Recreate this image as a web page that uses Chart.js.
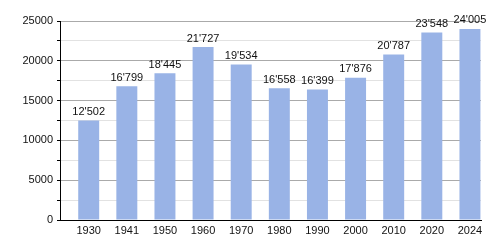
<!DOCTYPE html>
<html>
<head>
<meta charset="utf-8">
<script src="https://cdn.jsdelivr.net/npm/chart.js@4"></script>
<style>
html,body{margin:0;padding:0;background:#fff;}
#wrap{width:500px;height:250px;}
</style>
</head>
<body>
<div id="wrap"><canvas id="c" width="500" height="250"></canvas></div>
<script>
const years = ['1930','1941','1950','1960','1970','1980','1990','2000','2010','2020','2024'];
const population = [12502,16799,18445,21727,19534,16558,16399,17876,20787,23548,24005];
const yTicks = [0,5000,10000,15000,20000,25000];

function fmt(v){
  const s = String(v);
  return s.length > 3 ? s.slice(0, s.length-3) + "'" + s.slice(-3) : s;
}

const valueLabels = {
  id: 'valueLabels',
  afterDatasetsDraw(chart){
    const ctx = chart.ctx;
    const meta = chart.getDatasetMeta(0);
    ctx.save();
    ctx.font = '11px "Liberation Sans", Arial, sans-serif';
    ctx.fillStyle = '#111';
    ctx.textAlign = 'center';
    ctx.textBaseline = 'bottom';
    meta.data.forEach((bar, i) => {
      ctx.fillText(fmt(population[i]), bar.x, bar.y - 3);
    });
    ctx.restore();
  }
};

new Chart(document.getElementById('c'), {
  type: 'bar',
  data: {
    datasets: [{
      data: population.map((v, i) => ({x: i, y: v})),
      backgroundColor: '#99b3e6',
      borderWidth: 0,
      barPercentage: 0.55,
      categoryPercentage: 1
    }]
  },
  options: {
    responsive: false,
    animation: false,
    devicePixelRatio: 1,
    layout: {padding: {top: 21, right: 19, left: 0, bottom: 0}},
    plugins: {legend: {display: false}, tooltip: {enabled: false}},
    scales: {
      x: {
        type: 'linear',
        offset: false,
        min: -0.753,
        max: 10.29,
        afterFit(s){ s.height = 30; },
        grid: {display: false, drawTicks: false},
        border: {display: true, color: '#000', width: 1},
        ticks: {
          stepSize: 1,
          includeBounds: false,
          autoSkip: false,
          maxRotation: 0,
          padding: 4,
          color: '#111',
          font: {family: '"Liberation Sans", Arial, sans-serif', size: 11},
          callback: (v) => Number.isInteger(v) && years[v] !== undefined ? years[v] : ''
        }
      },
      y: {
        min: yTicks[0],
        max: yTicks[yTicks.length-1],
        afterFit(s){ s.width = 60; },
        grid: {
          color: (c) => (c.tick && c.tick.value % 5000 === 0) ? '#aaaaaa' : '#e2e2e2',
          tickColor: '#000',
          tickLength: 3,
          drawTicks: true
        },
        border: {display: true, color: '#000', width: 1},
        ticks: {
          stepSize: 2500,
          padding: 4,
          color: '#111',
          font: {family: '"Liberation Sans", Arial, sans-serif', size: 11},
          callback: (v) => yTicks.includes(v) ? String(v) : ''
        }
      }
    }
  },
  plugins: [valueLabels]
});
</script>
</body>
</html>
